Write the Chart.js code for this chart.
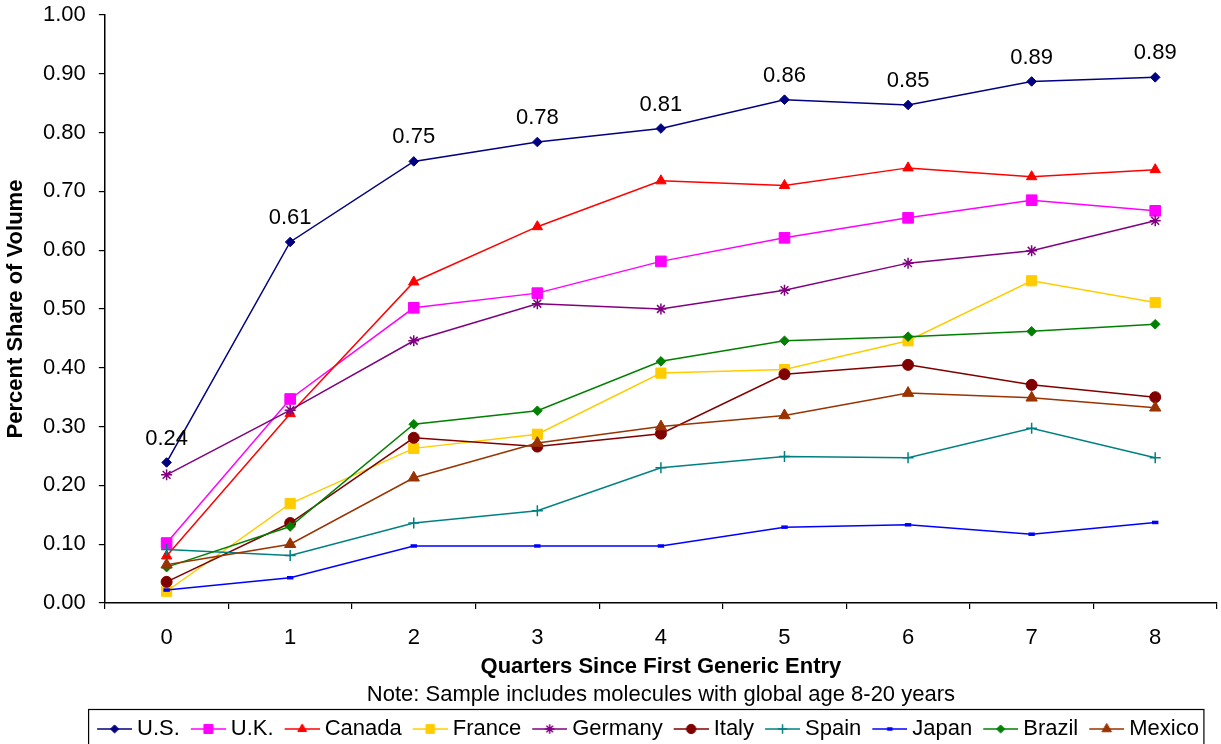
<!DOCTYPE html>
<html>
<head>
<meta charset="utf-8">
<script src="https://cdn.jsdelivr.net/npm/chart.js@4.4.1/dist/chart.umd.min.js"></script>
<style>
  html, body { margin: 0; padding: 0; background: #ffffff; }
  #wrap { width: 1221px; height: 744px; }
</style>
</head>
<body>
<div id="wrap"><canvas id="c" width="1221" height="744"></canvas></div>
<script>
// ---------- data ----------
const categories = ['0', '1', '2', '3', '4', '5', '6', '7', '8'];
const seriesNames = ['U.S.', 'U.K.', 'Canada', 'France', 'Germany', 'Italy', 'Spain', 'Japan', 'Brazil', 'Mexico'];
const usValues      = [0.239, 0.614, 0.751, 0.784, 0.807, 0.856, 0.847, 0.887, 0.894];
const ukValues      = [0.102, 0.347, 0.502, 0.527, 0.581, 0.621, 0.655, 0.685, 0.667];
const canadaValues  = [0.080, 0.322, 0.546, 0.640, 0.718, 0.710, 0.740, 0.725, 0.737];
const franceValues  = [0.020, 0.169, 0.263, 0.287, 0.391, 0.397, 0.446, 0.548, 0.511];
const germanyValues = [0.218, 0.328, 0.446, 0.509, 0.500, 0.532, 0.578, 0.599, 0.650];
const italyValues   = [0.036, 0.136, 0.281, 0.266, 0.288, 0.389, 0.405, 0.371, 0.350];
const spainValues   = [0.091, 0.081, 0.136, 0.157, 0.230, 0.249, 0.247, 0.297, 0.247];
const japanValues   = [0.022, 0.043, 0.097, 0.097, 0.097, 0.129, 0.133, 0.117, 0.137];
const brazilValues  = [0.061, 0.130, 0.304, 0.327, 0.411, 0.446, 0.453, 0.462, 0.474];
const mexicoValues  = [0.065, 0.100, 0.213, 0.272, 0.300, 0.319, 0.357, 0.349, 0.332];
const yTickMin = 0, yTickMax = 1.0, yTickStep = 0.1;
const xAxisTitle = 'Quarters Since First Generic Entry';
const yAxisTitle = 'Percent Share of Volume';
const noteText = 'Note: Sample includes molecules with global age 8-20 years';

// ---------- styles ----------
const FONT = '"Liberation Sans", Arial, Helvetica, sans-serif';
const allValues = [usValues, ukValues, canadaValues, franceValues, germanyValues,
                   italyValues, spainValues, japanValues, brazilValues, mexicoValues];
const styles = [
  {color: '#000080', pointStyle: 'rectRot',  radius: 4.8, bw: 1},
  {color: '#FF00FF', pointStyle: 'rect',     radius: 7.5, bw: 1},
  {color: '#FF0000', pointStyle: 'triangle', radius: 6,   bw: 1},
  {color: '#FFCC00', pointStyle: 'rect',     radius: 7.2, bw: 1},
  {color: '#800080', pointStyle: 'star',     radius: 5.5, bw: 1.5},
  {color: '#800000', pointStyle: 'circle',   radius: 5.5, bw: 1},
  {color: '#008080', pointStyle: 'cross',    radius: 5.5, bw: 1.5},
  {color: '#0000FF', pointStyle: 'line',     radius: 3.2, bw: 3.5},
  {color: '#008000', pointStyle: 'rectRot',  radius: 4.8, bw: 1},
  {color: '#993300', pointStyle: 'triangle', radius: 6.5, bw: 1}
];

// legend swatches: line with marker in the middle
const legendImgs = styles.map((s) => {
  const cv = document.createElement('canvas');
  cv.width = 42; cv.height = 22;
  const c = cv.getContext('2d');
  c.strokeStyle = s.color; c.lineWidth = 1.5;
  c.beginPath(); c.moveTo(7, 11); c.lineTo(42, 11); c.stroke();
  c.fillStyle = s.color; c.strokeStyle = s.color; c.lineWidth = s.bw;
  Chart.helpers.drawPoint(c, {pointStyle: s.pointStyle, radius: s.radius * 0.85, rotation: 0, borderWidth: s.bw}, 24.5, 11);
  return cv;
});

const datasets = seriesNames.map((name, i) => ({
  label: name,
  data: allValues[i],
  borderColor: styles[i].color,
  backgroundColor: styles[i].color,
  pointBackgroundColor: styles[i].color,
  pointBorderColor: styles[i].color,
  pointStyle: styles[i].pointStyle,
  pointRadius: styles[i].radius,
  pointHoverRadius: styles[i].radius,
  pointBorderWidth: styles[i].bw,
  borderWidth: 1.5,
  tension: 0,
  fill: false,
  clip: false,
  order: seriesNames.length - i
}));

const usLabelsPlugin = {
  id: 'usLabels',
  afterDatasetsDraw(chart) {
    const meta = chart.getDatasetMeta(0);
    const ctx = chart.ctx;
    ctx.save();
    ctx.font = '22px ' + FONT;
    ctx.fillStyle = '#000';
    ctx.textAlign = 'center';
    ctx.textBaseline = 'middle';
    meta.data.forEach((pt, i) => {
      ctx.fillText(usValues[i].toFixed(2), pt.x, pt.y - 24);
    });
    ctx.restore();
  }
};

const legendPlacePlugin = {
  id: 'legendPlace',
  afterLayout(chart) {
    const lg = chart.legend;
    const shift = 39;
    lg.left += shift; lg.right += shift;
  },
  afterDraw(chart) {
    const lg = chart.legend;
    const pad = 10;
    const lw = lg.lineWidths[0];
    const start = (lg.left + pad + lg.right - lw) / 2;
    const end = start + lw - pad;
    const ctx = chart.ctx;
    ctx.save();
    ctx.strokeStyle = '#000';
    ctx.lineWidth = 1.2;
    ctx.strokeRect(start - 7.5, lg.top + 1.5, (end + 5) - (start - 7.5), 60);
    ctx.restore();
  }
};

new Chart(document.getElementById('c'), {
  type: 'line',
  data: { labels: categories, datasets: datasets },
  options: {
    responsive: false,
    animation: false,
    events: [],
    layout: { autoPadding: false, padding: { left: 0, right: 4, top: 15, bottom: 0 } },
    plugins: {
      tooltip: { enabled: false },
      title: {
        display: true,
        text: noteText,
        position: 'bottom',
        fullSize: false,
        weight: 500,
        color: '#000',
        font: { family: FONT, size: 22, weight: 'normal', lineHeight: 1.2 },
        padding: { top: 0, bottom: 0 }
      },
      legend: {
        display: true,
        position: 'bottom',
        fullSize: true,
        maxHeight: 36,
        labels: {
          usePointStyle: true,
          pointStyleWidth: 30,
          boxHeight: 22,
          padding: 10,
          color: '#000',
          font: { family: FONT, size: 22 },
          sort: (a, b) => a.datasetIndex - b.datasetIndex,
          generateLabels(chart) {
            const items = Chart.defaults.plugins.legend.labels.generateLabels(chart);
            items.forEach((it) => { it.pointStyle = legendImgs[it.datasetIndex]; it.rotation = 0; });
            return items;
          }
        }
      }
    },
    scales: {
      x: {
        type: 'category',
        offset: true,
        grid: { display: true, offset: true, drawOnChartArea: false, drawTicks: true, tickLength: 6, color: '#000', lineWidth: 1.2 },
        border: { display: true, color: '#000', width: 1.5 },
        ticks: { color: '#000', padding: 0, font: { family: FONT, size: 22, lineHeight: 2.636 } },
        title: {
          display: true, text: xAxisTitle, color: '#000',
          font: { family: FONT, size: 22, weight: 'bold', lineHeight: 1.0 },
          padding: { top: -11, bottom: 3.6 }
        }
      },
      y: {
        min: yTickMin, max: yTickMax,
        grid: { display: true, drawOnChartArea: false, drawTicks: true, tickLength: 6, color: '#000', lineWidth: 1.2 },
        border: { display: true, color: '#000', width: 1.5 },
        ticks: {
          stepSize: yTickStep, color: '#000', padding: 13,
          font: { family: FONT, size: 22, lineHeight: 0.1 },
          callback: (v) => Number(v).toFixed(2)
        },
        title: {
          display: true, text: yAxisTitle, color: '#000',
          font: { family: FONT, size: 22, weight: 'bold', lineHeight: 1.2 },
          padding: { top: 3, bottom: 0.6 }
        }
      }
    }
  },
  plugins: [usLabelsPlugin, legendPlacePlugin]
});
</script>
</body>
</html>
